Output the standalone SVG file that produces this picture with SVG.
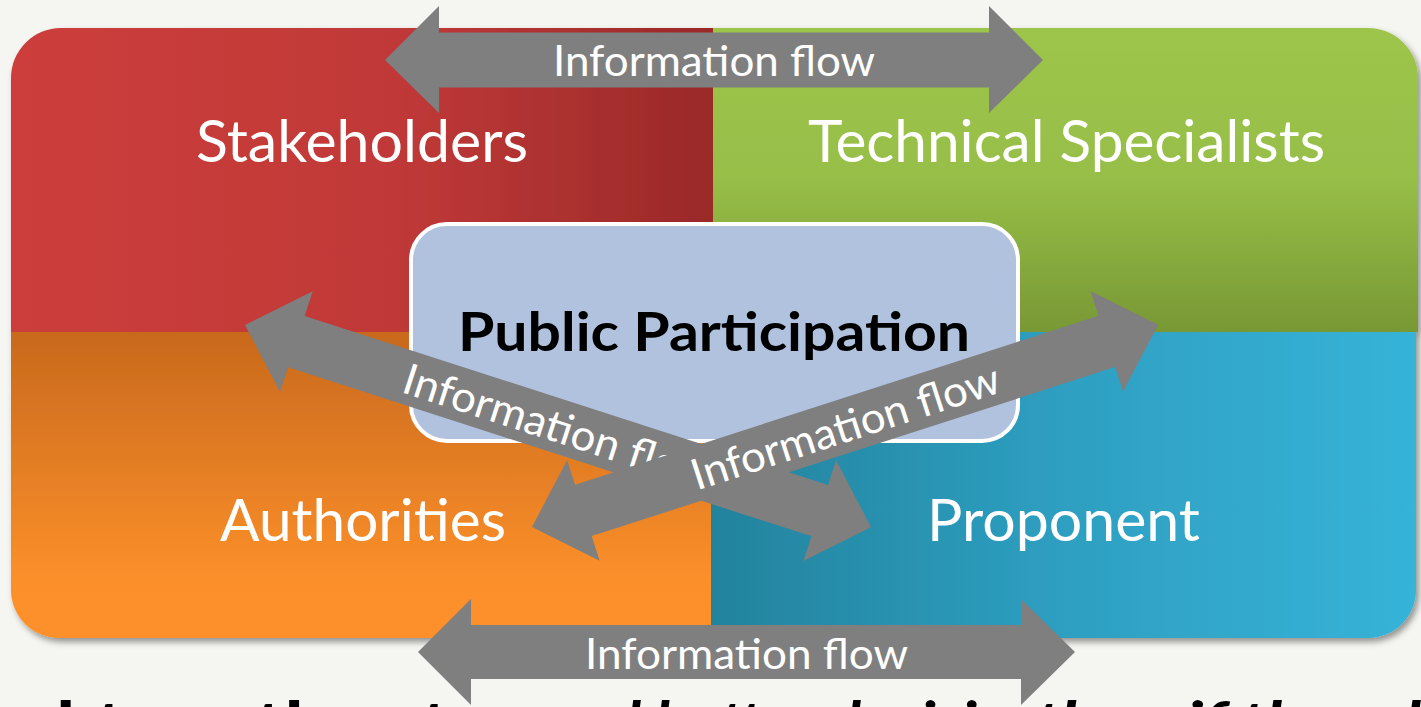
<svg xmlns="http://www.w3.org/2000/svg" width="1421" height="707" viewBox="0 0 1421 707">
<defs>
<linearGradient id="gRed" gradientUnits="userSpaceOnUse" x1="11" y1="0" x2="713" y2="0"><stop offset="0" stop-color="#cc3d3b"/><stop offset="0.55" stop-color="#c03938"/><stop offset="1" stop-color="#9a2928"/></linearGradient>
<linearGradient id="gGreen" gradientUnits="userSpaceOnUse" x1="0" y1="28" x2="0" y2="332"><stop offset="0" stop-color="#9dc54b"/><stop offset="0.5" stop-color="#97be47"/><stop offset="1" stop-color="#789835"/></linearGradient>
<linearGradient id="gOrange" gradientUnits="userSpaceOnUse" x1="0" y1="332" x2="0" y2="638"><stop offset="0" stop-color="#c8691d"/><stop offset="0.8" stop-color="#fb8f2a"/><stop offset="1" stop-color="#fd902a"/></linearGradient>
<linearGradient id="gBlue" gradientUnits="userSpaceOnUse" x1="711" y1="0" x2="1416" y2="0"><stop offset="0" stop-color="#23839d"/><stop offset="0.5" stop-color="#2e9fc1"/><stop offset="1" stop-color="#36b3d8"/></linearGradient>
<filter id="shadow" x="-5%" y="-5%" width="110%" height="115%"><feDropShadow dx="3" dy="4" stdDeviation="3" flood-color="#000" flood-opacity="0.4"/></filter>
<style>
.lbl{font-family:Lato,"Open Sans","Liberation Sans",sans-serif;fill:#fff;font-size:58px}
.flow{font-family:Lato,"Open Sans","Liberation Sans",sans-serif;fill:#fff;font-size:43px}
.arrow{fill:#7f7f7f}
.btm{font-family:Lato,"Open Sans","Liberation Sans",sans-serif;fill:#000;font-size:58px;font-weight:bold}
</style>
</defs>
<rect width="1421" height="707" fill="#f5f6f1"/>
<g id="bottom-text">
<text class="btm" x="30" y="743" textLength="420" lengthAdjust="spacingAndGlyphs">d together t</text>
<text class="btm" x="540" y="743" font-style="italic" textLength="470" lengthAdjust="spacingAndGlyphs">and better decisio</text>
<text class="btm" x="1035" y="743" font-style="italic" textLength="386" lengthAdjust="spacingAndGlyphs">than if they d</text>
</g>
<g id="quadrants" filter="url(#shadow)">
<g id="stakeholders">
<path d="M11,332 V78 A50,50 0 0 1 61,28 H713 V332 Z" fill="url(#gRed)"/>
<text class="lbl" x="196" y="162" textLength="332" lengthAdjust="spacingAndGlyphs">Stakeholders</text>
</g>
<g id="technical-specialists">
<path d="M713,28 H1368 A50,50 0 0 1 1418,78 V332 H713 Z" fill="url(#gGreen)"/>
<text class="lbl" x="808" y="162" textLength="517" lengthAdjust="spacingAndGlyphs">Technical Specialists</text>
</g>
<g id="authorities">
<path d="M11,332 H711 V638 H59 A48,48 0 0 1 11,590 Z" fill="url(#gOrange)"/>
<text class="lbl" x="220" y="541" textLength="286" lengthAdjust="spacingAndGlyphs">Authorities</text>
</g>
<g id="proponent">
<path d="M711,332 H1416 V590 A48,48 0 0 1 1368,638 H711 Z" fill="url(#gBlue)"/>
<text class="lbl" x="927" y="541" textLength="273" lengthAdjust="spacingAndGlyphs">Proponent</text>
</g>
</g>
<g id="public-participation">
<rect x="411" y="224" width="607" height="217" rx="36" ry="36" fill="#b0c2dd" stroke="#fff" stroke-width="4"/>
<text x="458" y="351" font-family="Lato,'Open Sans','Liberation Sans',sans-serif" font-weight="bold" font-size="54" fill="#000" textLength="512" lengthAdjust="spacingAndGlyphs">Public Participation</text>
</g>
<g id="connectors">
<g id="flow-top">
<polygon class="arrow" points="385,60 439,6 439,32.5 989,32.5 989,6 1043,60 989,113 989,87.5 439,87.5 439,113"/>
<text class="flow" x="553" y="76" textLength="322" lengthAdjust="spacingAndGlyphs">Information flow</text>
</g>
<g id="flow-bottom">
<polygon class="arrow" points="418,652 471,599 471,625 1021,625 1021,599 1075,652 1021,705 1021,679 471,679 471,705"/>
<text class="flow" x="585" y="669" textLength="323" lengthAdjust="spacingAndGlyphs">Information flow</text>
</g>
<g id="flow-diag-a" transform="translate(245,325) rotate(17.9)">
<polygon class="arrow" points="0,0 54,-53 54,-27 604,-27 604,-53 658,0 604,53 604,27 54,27 54,53"/>
<text class="flow" x="168" y="16" textLength="322" lengthAdjust="spacingAndGlyphs">Information flow</text>
</g>
<g id="flow-diag-b" transform="translate(532,527) rotate(-17.9)">
<polygon class="arrow" points="0,0 54,-53 54,-27 604,-27 604,-53 658,0 604,53 604,27 54,27 54,53"/>
<text class="flow" x="168" y="16" textLength="322" lengthAdjust="spacingAndGlyphs">Information flow</text>
</g>
</g>
</svg>
